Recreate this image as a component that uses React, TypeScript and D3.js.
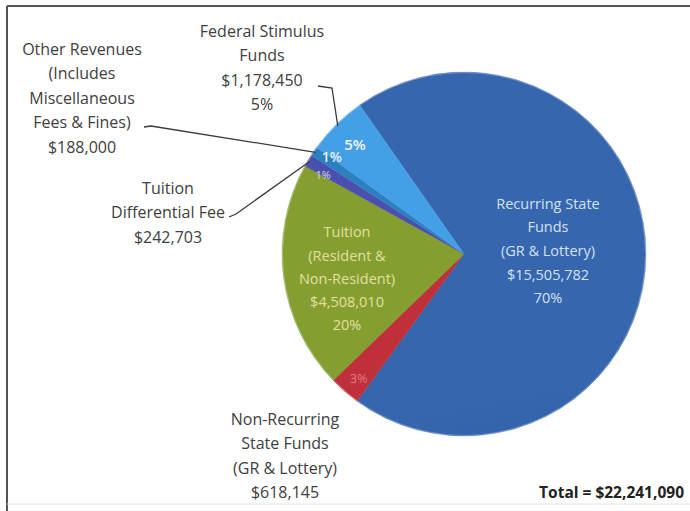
import React from "react";
import * as d3 from "d3";

// ---- data ----
const categories = [
  "Recurring State Funds (GR & Lottery)",
  "Non-Recurring State Funds (GR & Lottery)",
  "Tuition (Resident & Non-Resident)",
  "Tuition Differential Fee",
  "Other Revenues (Includes Miscellaneous Fees & Fines)",
  "Federal Stimulus Funds",
];
const values = [15505782, 618145, 4508010, 242703, 188000, 1178450];
const pctLabels = ["70%", "3%", "20%", "1%", "1%", "5%"];
const valueLabels = ["$15,505,782", "$618,145", "$4,508,010", "$242,703", "$188,000", "$1,178,450"];
const nameLines = [
  ["Recurring State", "Funds", "(GR & Lottery)"],
  ["Non-Recurring", "State Funds", "(GR & Lottery)"],
  ["Tuition", "(Resident &", "Non-Resident)"],
  ["Tuition", "Differential Fee"],
  ["Other Revenues", "(Includes", "Miscellaneous", "Fees & Fines)"],
  ["Federal Stimulus", "Funds"],
];
const totalLabel = "Total = $22,241,090";

// ---- layout / style ----
const W = 690, H = 511;
const CX = 464, CY = 254, R = 182;
const START = (-35 * Math.PI) / 180;
const FONT = "'Open Sans', Lato, sans-serif";
const LH = 24.4;

const gradStops = [
  ["#3566ae", "#2d5898", "#1d3a6c"],
  ["#c0303a", "#a82832", "#8a202a"],
  ["#849f30", "#6a8a2e", "#4a6628"],
  ["#4b50ae", "#41469e", "#363a8c"],
  ["#2c80c0", "#2674b4", "#216aa6"],
  ["#44a0e6", "#3a92d8", "#2b7cc4"],
];

// inside labels: radius along mid-angle + nudge
const inside = [
  { r: 84, dx: 0, dy: -4, lines: (i: number) => [...nameLines[i], valueLabels[i], pctLabels[i]], color: "#d6e1f3", size: 14.5, lh: 23.7, w: 400 },
  { r: 165, dx: 3, dy: 0, lines: (i: number) => [pctLabels[i]], color: "#e07a86", size: 12.5, lh: 0, w: 400 },
  { r: 119, dx: 1, dy: 9, lines: (i: number) => [...nameLines[i], valueLabels[i], pctLabels[i]], color: "#e4dfa0", size: 14.5, lh: 23.3, w: 400 },
  { r: 163, dx: -1, dy: 5, lines: (i: number) => [pctLabels[i]], color: "#d8d8e8", size: 11, lh: 0, w: 400 },
  { r: 164, dx: 3, dy: -4, lines: (i: number) => [pctLabels[i]], color: "#e8f0f8", size: 14, lh: 0, w: 600 },
  { r: 154, dx: -1, dy: 0, lines: (i: number) => [pctLabels[i]], color: "#f2f6fc", size: 15, lh: 0, w: 600 },
];

// outside labels: text block anchor + leader elbow
const outside: Record<number, { x: number; y0: number; lines: string[]; leader?: [number, number][] }> = {
  1: { x: 285, y0: 425, lines: [...nameLines[1], valueLabels[1]] },
  3: { x: 168, y0: 194, lines: [...nameLines[3], valueLabels[3]], leader: [[229, 217], [236, 214]] },
  4: { x: 82, y0: 55, lines: [...nameLines[4], valueLabels[4]], leader: [[144, 127], [151, 126]] },
  5: { x: 262, y0: 37, lines: [...nameLines[5], valueLabels[5], pctLabels[5]], leader: [[318, 86], [332, 88]] },
};

export default function App() {
  const pie = d3
    .pie<number>()
    .sort(null)
    .startAngle(START)
    .endAngle(START + Math.PI * 2)
    .value((d) => d);
  const arcs = pie(values);
  const arc = d3.arc<d3.PieArcDatum<number>>().innerRadius(0).outerRadius(R);
  const polar = (a: number, r: number): [number, number] => [CX + r * Math.sin(a), CY - r * Math.cos(a)];

  return (
    <svg
      width={W}
      height={H}
      style={{ position: "absolute", left: 0, top: 0, background: "#fff" }}
      fontFamily={FONT}
    >
      <defs>
        {gradStops.map((g, i) => (
          <linearGradient
            key={i}
            id={`sliceGrad${i}`}
            gradientUnits="userSpaceOnUse"
            x1={CX - R * 0.3}
            y1={CY - R}
            x2={CX + R * 0.1}
            y2={CY + R}
          >
            <stop offset="0" stopColor={g[0]} />
            <stop offset="0.55" stopColor={g[1]} />
            <stop offset="1" stopColor={g[2]} />
          </linearGradient>
        ))}
      </defs>
      <rect x={0} y={0} width={W} height={H} fill="#fff" />
      {/* frame */}
      <line x1={7} y1={6} x2={W} y2={6} stroke="#555" strokeWidth={2} />
      <line x1={7} y1={6} x2={7} y2={H} stroke="#555" strokeWidth={2} />
      <line x1={7} y1={504} x2={W} y2={504} stroke="#e4e4e4" strokeWidth={1} />

      <g transform={`translate(${CX},${CY})`}>
        {arcs.map((a, i) => (
          <path key={i} d={arc(a) || ""} fill={`url(#sliceGrad${i})`} stroke={gradStops[i][1]} strokeWidth={0.3} />
        ))}
        <circle r={R - 0.5} fill="none" stroke="#ffffff" strokeOpacity={0.3} strokeWidth={1} />
      </g>

      {/* leader lines */}
      {arcs.map((a, i) => {
        const o = outside[i];
        if (!o || !o.leader) return null;
        const mid = (a.startAngle + a.endAngle) / 2;
        const end = polar(mid, R - 2);
        const pts = [...o.leader, end];
        return (
          <polyline
            key={`l${i}`}
            points={pts.map((p) => p.join(",")).join(" ")}
            fill="none"
            stroke="#3a3a3a"
            strokeWidth={1.3}
          />
        );
      })}

      {/* inside labels */}
      {arcs.map((a, i) => {
        const s = inside[i];
        const mid = (a.startAngle + a.endAngle) / 2;
        const [x, y] = polar(mid, s.r);
        const lines = s.lines(i);
        const n = lines.length;
        return (
          <text key={`t${i}`} textAnchor="middle" fill={s.color} fontSize={s.size} fontWeight={s.w}>
            {lines.map((ln, k) => (
              <tspan key={k} x={x + s.dx} y={y + s.dy + (k - (n - 1) / 2) * s.lh + s.size * 0.36}>
                {ln}
              </tspan>
            ))}
          </text>
        );
      })}

      {/* outside labels */}
      {Object.entries(outside).map(([k, o]) => (
        <text key={`o${k}`} textAnchor="middle" fill="#404040" fontSize={16}>
          {o.lines.map((ln, j) => (
            <tspan key={j} x={o.x} y={o.y0 + j * LH}>
              {ln}
            </tspan>
          ))}
        </text>
      ))}

      <text x={684} y={498} textAnchor="end" fontSize={15.5} fontWeight={700} fill="#222">
        {totalLabel}
      </text>
    </svg>
  );
}
